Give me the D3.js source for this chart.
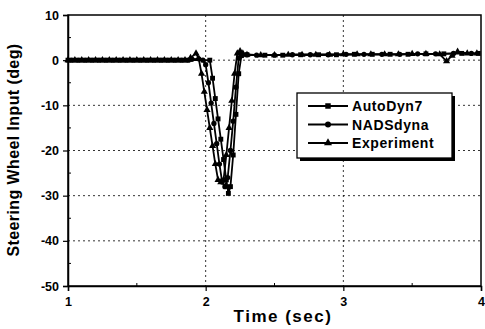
<!DOCTYPE html>
<html>
<head>
<meta charset="utf-8">
<script src="https://cdn.jsdelivr.net/npm/d3@7"></script>
<style>
  html, body { margin: 0; padding: 0; background: #fff; }
  svg text { font-family: "Liberation Sans", Arial, Helvetica, sans-serif; font-weight: bold; fill: #000; }
</style>
</head>
<body>
<svg id="chart" width="485" height="329"></svg>
<script>
// Steering wheel input time histories (deg) for the two models and the test run
const flatTimes = [1.00, 1.05, 1.10, 1.15, 1.20, 1.25, 1.30, 1.35, 1.40, 1.45, 1.50, 1.55, 1.60, 1.65, 1.70, 1.75, 1.80, 1.85];
const flatValues = flatTimes.map(() => 0);

const autoTimes = [2.03, 2.05, 2.07, 2.09, 2.11, 2.13, 2.15, 2.165, 2.18, 2.20, 2.22, 2.24, 2.26, 2.30, 2.43, 2.56, 2.69, 2.82, 2.95, 3.08, 3.21, 3.34, 3.47, 3.60, 3.73, 3.86, 3.98];
const autoValues = [0, -4, -8.5, -13, -17.5, -22, -26.5, -29.5, -28, -21, -12, -3, 1, 1.2, 1.1, 1.1, 1.2, 1.2, 1.2, 1.3, 1.3, 1.3, 1.3, 1.4, 1.4, 1.5, 1.5];

const nadsTimes = [1.90, 1.95, 1.98, 2.00, 2.02, 2.04, 2.06, 2.08, 2.10, 2.12, 2.14, 2.16, 2.18, 2.20, 2.22, 2.24, 2.26, 2.30, 2.37, 2.50, 2.63, 2.76, 2.89, 3.02, 3.15, 3.28, 3.41, 3.54, 3.67, 3.80, 3.93];
const nadsValues = [0.2, 0.3, 0, -1, -5, -9.5, -14, -18.5, -23, -27, -28, -26, -20, -13.5, -6, 0.5, 1.2, 1.2, 1.1, 1.1, 1.2, 1.2, 1.2, 1.3, 1.3, 1.3, 1.3, 1.4, 1.4, 1.5, 1.5];

const expTimes = [1.89, 1.93, 1.95, 1.97, 1.99, 2.01, 2.03, 2.05, 2.07, 2.09, 2.11, 2.13, 2.15, 2.17, 2.19, 2.21, 2.23, 2.25, 2.27, 2.30, 2.40, 2.50, 2.60, 2.70, 2.80, 2.90, 3.00, 3.10, 3.20, 3.30, 3.40, 3.50, 3.60, 3.70, 3.75, 3.79, 3.83, 3.90, 3.97];
const expValues = [0.5, 1.5, 0.3, -3, -7, -11, -15, -19, -23, -26.5, -27, -26.5, -21, -15, -9, -3, 1.5, 2, 1.5, 1.2, 1.1, 1.1, 1.2, 1.2, 1.2, 1.2, 1.3, 1.3, 1.3, 1.3, 1.3, 1.4, 1.4, 1.3, -0.2, 1.0, 1.9, 1.5, 1.5];

const seriesNames = ["AutoDyn7", "NADSdyna", "Experiment"];
const seriesMarkers = ["square", "circle", "triangle"];

const xTicks = [1, 2, 3, 4];
const xMinorTicks = [1.5, 2.5, 3.5];
const yTicks = [10, 0, -10, -20, -30, -40, -50];
const yMinorTicks = [5, -5, -15, -25, -35, -45];
const xTitle = "Time (sec)";
const yTitle = "Steering Wheel Input (deg)";

const series = [
  { name: seriesNames[0], marker: seriesMarkers[0],
    pts: flatTimes.map((t, i) => [t, flatValues[i]]).concat(autoTimes.map((t, i) => [t, autoValues[i]])) },
  { name: seriesNames[1], marker: seriesMarkers[1],
    pts: flatTimes.map((t, i) => [t + 0.025, flatValues[i]]).concat(nadsTimes.map((t, i) => [t, nadsValues[i]])) },
  { name: seriesNames[2], marker: seriesMarkers[2],
    pts: flatTimes.map((t, i) => [t, flatValues[i]]).concat(expTimes.map((t, i) => [t, expValues[i]])) }
];

const svg = d3.select("#chart");
const plot = { left: 68, right: 481, top: 15, bottom: 286 };

const x = d3.scaleLinear().domain([1, 4]).range([plot.left, plot.right]);
const y = d3.scaleLinear().domain([-50, 10]).range([plot.bottom, plot.top]);

// dotted grid at the major ticks
const grid = svg.append("g").attr("stroke", "#000").attr("stroke-width", 0.8).attr("stroke-dasharray", "2,3");
grid.selectAll("line.gx").data(xTicks.slice(1, -1)).enter().append("line")
  .attr("x1", d => x(d)).attr("x2", d => x(d)).attr("y1", plot.top).attr("y2", plot.bottom);
grid.selectAll("line.gy").data(yTicks.slice(1, -1)).enter().append("line")
  .attr("x1", plot.left).attr("x2", plot.right).attr("y1", d => y(d)).attr("y2", d => y(d));

// frame
svg.append("rect").attr("x", plot.left).attr("y", plot.top)
  .attr("width", plot.right - plot.left).attr("height", plot.bottom - plot.top)
  .attr("fill", "none").attr("stroke", "#000").attr("stroke-width", 1.5);

// axes (plain hyphen for negative labels)
const plainNum = d => String(d);
const xAxis = d3.axisBottom(x).tickValues(xTicks).tickFormat(plainNum).tickSize(5).tickPadding(4);
const gx = svg.append("g").attr("transform", `translate(0,${plot.bottom})`).call(xAxis);
const yAxis = d3.axisLeft(y).tickValues(yTicks).tickFormat(plainNum).tickSize(5).tickPadding(4);
const gy = svg.append("g").attr("transform", `translate(${plot.left},0)`).call(yAxis);
[gx, gy].forEach(g => {
  g.select(".domain").attr("stroke", "#000").attr("stroke-width", 1.5);
  g.selectAll(".tick line").attr("stroke", "#000").attr("stroke-width", 1.2);
  g.selectAll(".tick text").style("font-size", "12.5px").style("font-weight", "bold")
    .style("font-family", "'Liberation Sans', Arial, sans-serif").attr("fill", "#000");
});
gx.selectAll(".tick text").attr("dy", "0.9em");

// minor ticks inside the frame
svg.append("g").selectAll("line").data(xMinorTicks).enter().append("line")
  .attr("x1", d => x(d)).attr("x2", d => x(d)).attr("y1", plot.bottom).attr("y2", plot.bottom - 3)
  .attr("stroke", "#000").attr("stroke-width", 1);
svg.append("g").selectAll("line").data(yMinorTicks).enter().append("line")
  .attr("x1", plot.left).attr("x2", plot.left + 3).attr("y1", d => y(d)).attr("y2", d => y(d))
  .attr("stroke", "#000").attr("stroke-width", 1);

// marker shapes
const symbolFor = { square: d3.symbolSquare, circle: d3.symbolCircle, triangle: d3.symbolTriangle };
const sizeFor = { square: 24, circle: 22, triangle: 22 };

const line = d3.line().x(d => x(d[0])).y(d => y(d[1]));
const drawOrder = [2, 1, 0];
drawOrder.forEach(i => {
  const s = series[i];
  const pts = s.pts.slice().sort((a, b) => a[0] - b[0]);
  svg.append("path").datum(pts).attr("d", line)
    .attr("fill", "none").attr("stroke", "#000").attr("stroke-width", 1.8).attr("stroke-linejoin", "round");
  svg.append("g").selectAll("path").data(pts).enter().append("path")
    .attr("transform", d => `translate(${x(d[0])},${y(d[1])})`)
    .attr("d", d3.symbol().type(symbolFor[s.marker]).size(sizeFor[s.marker]))
    .attr("fill", "#000");
});

// legend with drop shadow
const lg = { x: 297, y: 93, w: 155, h: 65 };
svg.append("rect").attr("x", lg.x + 3).attr("y", lg.y + 3).attr("width", lg.w).attr("height", lg.h).attr("fill", "#000");
svg.append("rect").attr("x", lg.x).attr("y", lg.y).attr("width", lg.w).attr("height", lg.h)
  .attr("fill", "#fff").attr("stroke", "#000").attr("stroke-width", 1.3);
series.forEach((s, i) => {
  const ly = lg.y + 13 + i * 18.5;
  svg.append("line").attr("x1", lg.x + 11).attr("x2", lg.x + 51).attr("y1", ly).attr("y2", ly)
    .attr("stroke", "#000").attr("stroke-width", 1.8);
  svg.append("path").attr("transform", `translate(${lg.x + 31},${ly})`)
    .attr("d", d3.symbol().type(symbolFor[s.marker]).size(sizeFor[s.marker] + 6)).attr("fill", "#000");
  svg.append("text").attr("x", lg.x + 55).attr("y", ly + 5).style("font-size", "14px")
    .style("letter-spacing", "0.6px").text(s.name);
});

// axis titles
svg.append("text").attr("x", 283).attr("y", 322).attr("text-anchor", "middle")
  .style("font-size", "17px").style("letter-spacing", "1.5px").text(xTitle);
svg.append("text").attr("transform", "translate(19,150) rotate(-90)").attr("text-anchor", "middle")
  .style("font-size", "16px").style("letter-spacing", "0.4px").text(yTitle);
</script>
</body>
</html>
